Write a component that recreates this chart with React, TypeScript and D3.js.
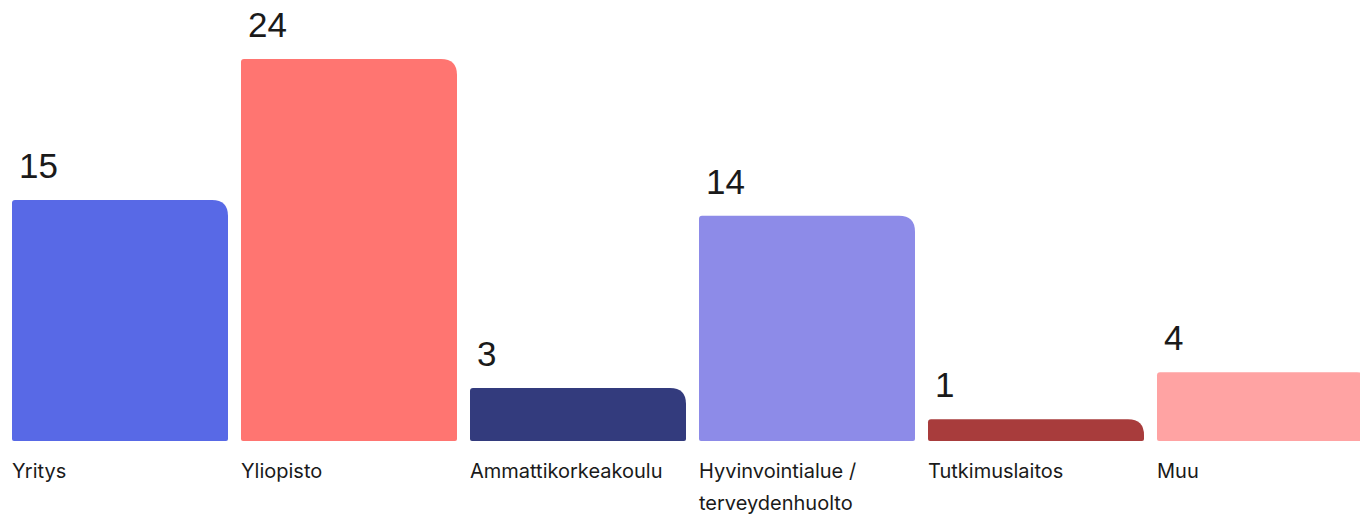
import * as d3 from "d3"

const categories = ["Yritys", "Yliopisto", "Ammattikorkeakoulu", "Hyvinvointialue / terveydenhuolto", "Tutkimuslaitos", "Muu"]
const labelLines = [["Yritys"], ["Yliopisto"], ["Ammattikorkeakoulu"], ["Hyvinvointialue /", "terveydenhuolto"], ["Tutkimuslaitos"], ["Muu"]]
const values = [15, 24, 3, 14, 1, 4]
const colors = ["#5869e6", "#ff7571", "#333b7d", "#8d8be8", "#a83c3c", "#ffa3a3"]

const WIDTH = 1360
const HEIGHT = 516
const BASE = 441

// top-left small radius, top-right big radius, bottom tiny radius
function barPath(x: number, y: number, w: number, h: number) {
  const rl = Math.min(3, h / 2)
  const rr = Math.min(16, h - 2)
  const rb = 2
  return `M${x},${y + h - rb}
    L${x},${y + rl} Q${x},${y} ${x + rl},${y}
    L${x + w - rr},${y} Q${x + w},${y} ${x + w},${y + rr}
    L${x + w},${y + h - rb} Q${x + w},${y + h} ${x + w - rb},${y + h}
    L${x + rb},${y + h} Q${x},${y + h} ${x},${y + h - rb}Z`
}

export default function App() {
  const x = d3.scaleBand<string>().domain(categories).range([12, 1373]).paddingInner(13 / 229).paddingOuter(0)
  const y = d3.scaleLinear().domain([0, d3.max(values) as number]).range([435, 59])

  return (
    <div style={{ position: "absolute", left: 0, top: 0, width: WIDTH, height: HEIGHT, overflow: "hidden", background: "#fff" }}>
      <svg width={WIDTH} height={HEIGHT} style={{ display: "block" }}>
        {categories.map((c, i) => {
          const bx = x(c) as number
          const by = y(values[i])
          return (
            <g key={c}>
              <path d={barPath(bx, by, x.bandwidth(), BASE - by)} fill={colors[i]} />
              <text x={bx + 7} y={by - 22} fontFamily="'Liberation Sans', Arial, sans-serif" fontSize={35} fill="#1a1a1a">
                {values[i]}
              </text>
              <text x={bx} y={478} fontFamily="Inter, 'Noto Sans', sans-serif" fontSize={20} fill="#1a1a1a">
                {labelLines[i].map((l, j) => (
                  <tspan key={j} x={bx} dy={j === 0 ? 0 : 32}>{l}</tspan>
                ))}
              </text>
            </g>
          )
        })}
      </svg>
    </div>
  )
}
